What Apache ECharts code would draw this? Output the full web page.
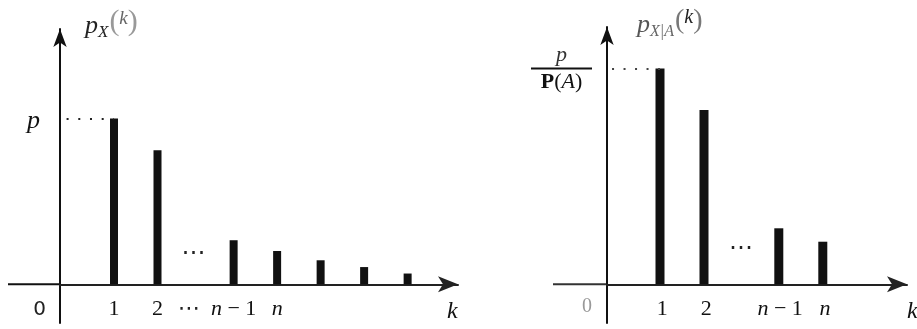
<!DOCTYPE html>
<html><head><meta charset="utf-8">
<script src="https://cdn.jsdelivr.net/npm/echarts@6/dist/echarts.min.js"></script>
<style>html,body{margin:0;padding:0;background:#fff}#c{width:917px;height:329px}</style>
</head><body><div id="c"></div>
<script>
// ---- data ----
const leftK = [1, 2, 3.75, 4.75, 5.75, 6.75, 7.75];
const leftVals = [1, 0.809, 0.266, 0.201, 0.145, 0.104, 0.065];
const leftTickK = [1, 2, 2.72, 3.75, 4.75];
const leftTickLabels = ['1', '2', '⋯', 'n − 1', 'n'];
const rightK = [1, 2, 3.7, 4.7];
const rightVals = [1.303, 1.052, 0.338, 0.257];
const rightTickK = [1.05, 2.05, 3.73, 4.75];
const rightTickLabels = ['1', '2', 'n − 1', 'n'];
const leftEllipsis = [2.83, 0.187];
const rightEllipsis = [2.84, 0.217];
const dotStartK = -0.09;

// ---- layout ----
const BASE = 284.3, UNIT = 165.7, AXIS_BOTTOM = 323;
const L = {left: 60, right: 458, top: 29, origin: 70.5, unit: 43.5};
const R = {left: 607, right: 907, top: 27, origin: 616, unit: 44};
function xr(g){ return [(g.left - g.origin)/g.unit, (g.right - g.origin)/g.unit]; }
function yr(g){ return [-(AXIS_BOTTOM - BASE)/UNIT, (BASE - g.top)/UNIT]; }
const [lxMin, lxMax] = xr(L), [rxMin, rxMax] = xr(R);
const [lyMin, lyMax] = yr(L), [ryMin, ryMax] = yr(R);

const serif = 'Liberation Serif';
const tickRich = {
  r: {fontFamily: serif, fontSize: 22, color: '#111'},
  i: {fontFamily: serif, fontStyle: 'italic', fontSize: 22, color: '#111'},
  e: {fontFamily: 'DejaVu Sans', fontSize: 22, color: '#222'}
};
function fmtTick(lbl){
  if (lbl === '⋯') return '{e|⋯}';
  if (lbl.startsWith('n')) return '{i|n}' + (lbl.length > 1 ? '{r|' + lbl.slice(1) + '}' : '');
  return '{r|' + lbl + '}';
}
function xAxisCfg(gi, min, max, ticks, labels, nameGap){
  return {
    gridIndex: gi, type: 'value', min: min, max: max,
    axisLine: {show: true, onZero: true, symbol: ['none', 'arrow'], symbolSize: [12, 20],
      lineStyle: {color: '#222', width: 2}},
    axisTick: {show: false}, splitLine: {show: false},
    axisLabel: {show: true, customValues: ticks, margin: -25,
      formatter: function(v){ let i = ticks.findIndex(t => Math.abs(t - v) < 1e-6); return i < 0 ? '' : fmtTick(labels[i]); },
      rich: tickRich},
    name: '{k|k}', nameLocation: 'end', nameGap: nameGap,
    nameTextStyle: {rich: {k: {fontFamily: serif, fontStyle: 'italic', fontSize: 24, color: '#111', padding: [54, 0, 0, 0]}}}
  };
}

const option = {
  animation: false,
  backgroundColor: '#fff',
  title: [
    {left: 80, top: 2, text: '{p|p}{s|X}{k|(}{kk|k}{k|)}',
      textStyle: {fontWeight: 'normal', rich: {
        p: {fontFamily: serif, fontStyle: 'italic', fontWeight: 'normal', fontSize: 26, color: '#222'},
        s: {fontFamily: serif, fontStyle: 'italic', fontWeight: 'normal', fontSize: 17, color: '#222', padding: [14, 1, 0, 0]},
        k: {fontFamily: serif, fontWeight: 'normal', fontSize: 30, color: '#999', padding: [0, 0, 8, 0]},
        kk: {fontFamily: serif, fontStyle: 'italic', fontWeight: 'normal', fontSize: 19, color: '#666', padding: [0, 0, 14, 0]}
      }}},
    {left: 632, top: 2, text: '{p|p}{s|X|A}{k|(}{kk|k}{k|)}',
      textStyle: {fontWeight: 'normal', rich: {
        p: {fontFamily: serif, fontStyle: 'italic', fontWeight: 'normal', fontSize: 26, color: '#555'},
        s: {fontFamily: serif, fontStyle: 'italic', fontWeight: 'normal', fontSize: 16, color: '#666', padding: [14, 1, 0, 0]},
        k: {fontFamily: serif, fontWeight: 'normal', fontSize: 28, color: '#777', padding: [0, 0, 8, 0]},
        kk: {fontFamily: serif, fontStyle: 'italic', fontWeight: 'normal', fontSize: 20, color: '#222', padding: [0, 0, 14, 0]}
      }}}
  ],
  grid: [
    {left: L.left, width: L.right - L.left, top: L.top, height: AXIS_BOTTOM - L.top, outerBoundsMode: 'none', containLabel: false},
    {left: R.left, width: R.right - R.left, top: R.top, height: AXIS_BOTTOM - R.top, outerBoundsMode: 'none', containLabel: false}
  ],
  xAxis: [
    xAxisCfg(0, lxMin, lxMax, leftTickK, leftTickLabels, -11),
    xAxisCfg(1, rxMin, rxMax, rightTickK, rightTickLabels, 0)
  ],
  yAxis: [
    {gridIndex: 0, type: 'value', min: lyMin, max: lyMax,
      axisLine: {show: true, onZero: false, symbol: ['none', 'arrow'], symbolSize: [10, 18], lineStyle: {color: '#111', width: 2}},
      axisTick: {show: false}, splitLine: {show: false},
      axisLabel: {show: true, customValues: [0, leftVals[0]], margin: 14,
        formatter: v => v === 0 ? '{z|0}' : '{p|p}',
        rich: {
          z: {fontFamily: 'DejaVu Sans', fontSize: 20, color: '#222', padding: [51, 0, 0, 0]},
          p: {fontFamily: serif, fontStyle: 'italic', fontSize: 26, color: '#111', padding: [6, 6, 0, 0]}
        }}},
    {gridIndex: 1, type: 'value', min: ryMin, max: ryMax,
      axisLine: {show: true, onZero: false, symbol: ['none', 'arrow'], symbolSize: [10, 18], lineStyle: {color: '#111', width: 2}},
      axisTick: {show: false}, splitLine: {show: false},
      axisLabel: {show: true, customValues: [0, rightVals[0]], margin: 15,
        formatter: v => v === 0 ? '{z|0}' : '{n|p}\n{ln| }\n{P|P}{d|(}{A|A}{d|)}',
        rich: {
          z: {fontFamily: serif, fontSize: 20, color: '#999', padding: [44, 0, 0, 0]},
          n: {fontFamily: serif, fontStyle: 'italic', fontSize: 22, color: '#333', align: 'center', lineHeight: 24},
          ln: {width: 61, height: 2, lineHeight: 3, fontSize: 2, backgroundColor: '#111', align: 'center'},
          P: {fontFamily: serif, fontWeight: 'bold', fontSize: 22, color: '#111', align: 'center', lineHeight: 24},
          d: {fontFamily: serif, fontSize: 22, color: '#111', align: 'center', lineHeight: 24},
          A: {fontFamily: serif, fontStyle: 'italic', fontSize: 22, color: '#111', align: 'center', lineHeight: 24}
        }}}
  ],
  series: [
    {type: 'bar', xAxisIndex: 0, yAxisIndex: 0, barWidth: 8,
      itemStyle: {color: '#111'},
      data: leftK.map((k, i) => [k, leftVals[i]]),
      markLine: {silent: true, symbol: ['none', 'none'], label: {show: false},
        lineStyle: {type: [2, 9.7], width: 2, color: '#222'},
        data: [[{coord: [dotStartK, leftVals[0]]}, {coord: [leftK[0], leftVals[0]]}]]},
      markPoint: {silent: true, symbol: 'circle', symbolSize: 1, itemStyle: {color: 'rgba(0,0,0,0)'},
        label: {show: true, position: 'inside', formatter: '⋯', fontFamily: 'DejaVu Sans', fontSize: 24, color: '#222'},
        data: [{coord: leftEllipsis}]}},
    {type: 'bar', xAxisIndex: 1, yAxisIndex: 1, barWidth: 9,
      itemStyle: {color: '#111'},
      data: rightK.map((k, i) => [k, rightVals[i]]),
      markLine: {silent: true, symbol: ['none', 'none'], label: {show: false},
        lineStyle: {type: [2, 9.5], width: 2, color: '#444'},
        data: [[{coord: [dotStartK, rightVals[0]]}, {coord: [rightK[0], rightVals[0]]}]]},
      markPoint: {silent: true, symbol: 'circle', symbolSize: 1, itemStyle: {color: 'rgba(0,0,0,0)'},
        label: {show: true, position: 'inside', formatter: '⋯', fontFamily: 'DejaVu Sans', fontSize: 24, color: '#222'},
        data: [{coord: rightEllipsis}]}}
  ],
  graphic: [
    {type: 'line', shape: {x1: 8, y1: BASE, x2: L.left, y2: BASE}, style: {stroke: '#111', lineWidth: 2}},
    {type: 'line', shape: {x1: 553, y1: BASE, x2: R.left, y2: BASE}, style: {stroke: '#333', lineWidth: 2}}
  ]
};
const chart = echarts.init(document.getElementById('c'), null, {renderer: 'canvas'});
chart.setOption(option);
</script></body></html>
